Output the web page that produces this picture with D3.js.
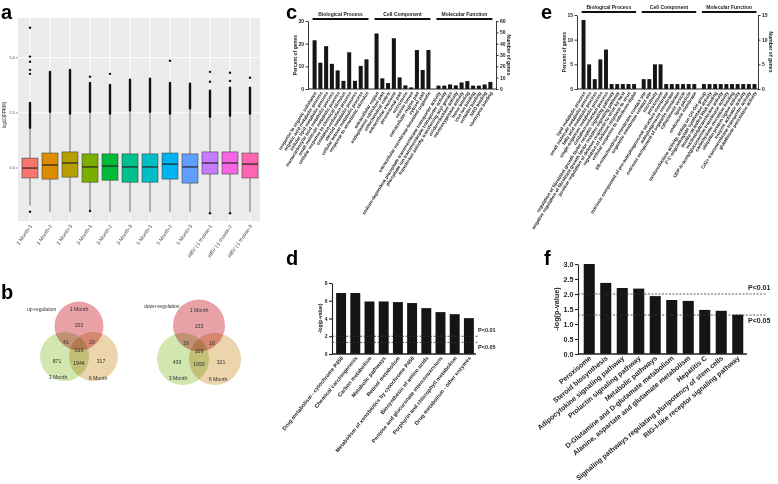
<!DOCTYPE html>
<html>
<head>
<meta charset="utf-8">
<script src="https://cdn.jsdelivr.net/npm/d3@7"></script>
<style>
  body { margin: 0; background: #fff; }
  svg { display: block; font-family: "Liberation Sans", Arial, sans-serif; }
</style>
</head>
<body>
<svg id="fig" width="778" height="484"></svg>
<script>
// ---------- data ----------
const boxSamples = ['1 Month-1', '1 Month-2', '1 Month-3', '3 Month-1', '3 Month-2', '3 Month-3',
  '6 Month-1', '6 Month-2', '6 Month-3', 'HBV (-) mouse-1', 'HBV (-) mouse-2', 'HBV (-) mouse-3'];
const boxColors = ['#F8766D', '#DE8C00', '#B79F00', '#7CAE00', '#00BA38', '#00C08B',
  '#00BFC4', '#00B4F0', '#619CFF', '#C77CFF', '#F564E3', '#FF64B0'];
const boxQ1 = [-0.45, -0.5, -0.41, -0.64, -0.55, -0.64, -0.64, -0.5, -0.68, -0.27, -0.27, -0.45];
const boxMedian = [0, 0.14, 0.23, 0.05, 0.09, 0.05, 0.05, 0.18, 0.05, 0.23, 0.23, 0.18];
const boxQ3 = [0.45, 0.68, 0.73, 0.64, 0.64, 0.64, 0.64, 0.68, 0.64, 0.73, 0.73, 0.68];
const whiskerLow = [-1.7, -2.0, -2.0, -2.0, -2.0, -2.0, -2.0, -2.0, -2.0, -2.0, -2.0, -2.0];
const whiskerHigh = [1.77, 2.5, 2.41, 2.5, 2.41, 2.55, 2.5, 2.41, 2.64, 2.27, 2.32, 2.41];
// top of the dense run of overlapping outlier points
const outlierStackTop = [2.95, 4.36, 4.45, 3.86, 3.77, 4.0, 4.05, 3.86, 3.82, 3.5, 3.64, 3.64];
const outliersHigh = [[6.36, 5.05, 4.82, 4.45, 4.27], [], [], [4.14], [4.27], [], [], [4.86], [], [4.36, 3.91], [4.32, 3.95], [4.09]];
const outliersLow = [[-1.98], [], [], [-1.95], [], [], [], [], [], [-2.05], [-2.05], []];
const aTicks = [0, 2.5, 5.0];

// venn regions: only 1M, only 3M, only 6M, 1M&3M, 1M&6M, 3M&6M, all three
const vennSets = ['1 Month', '3 Month', '6 Month'];
const upCounts = [202, 871, 317, 41, 20, 1944, 213];
const downCounts = [133, 439, 321, 19, 16, 1993, 109];

const goGroups = ['Biological Process', 'Cell Component', 'Molecular Function'];
const cTermsBP = ['response to organic substance', 'organic acid metabolic process', 'cellular lipid metabolic process',
  'monocarboxylic acid metabolic process', 'small molecule metabolic process', 'cellular response to chemical stimulus',
  'oxidation-reduction process', 'steroid metabolic process', 'cellular ketone metabolic process', 'response to xenobiotic stimulus'];
const cTermsCC = ['extracellular region', 'endoplasmic reticulum part', 'mitochondrial matrix', 'extracellular exosome',
  'peroxisomal part', 'microsome', 'vesicle lumen', 'extracellular region part', 'cytosol part', 'extracellular membrane-bounded organelle'];
const cTermsMF = ['sodium-dependent phosphate transmembrane transporter activity', 'phosphate ion transmembrane transporter activity',
  'transferase activity, transferring acyl groups', 'oxidoreductase activity', 'monooxygenase activity', 'heme binding',
  'iron ion binding', 'cofactor binding', 'NAD binding', 'coenzyme binding'];
const cPercentBP = [21.5, 11.6, 18.9, 11.1, 8.2, 3.6, 16.2, 3.6, 10.2, 13.1];
const cPercentCC = [24.5, 4.7, 2.6, 22.4, 5.1, 1.6, 0.7, 17.2, 8.4, 17.2];
const cPercentMF = [1.5, 1.5, 2.0, 1.6, 2.9, 3.5, 1.5, 1.5, 2.0, 3.1];

const eTermsBP = ['lipid metabolic process', 'small molecule metabolic process', 'fatty acid metabolic process',
  'single-organism metabolic process', 'oxidation-reduction process',
  'regulation of fibroblast growth factor receptor signaling pathway',
  'negative regulation of fibroblast growth factor receptor signaling pathway',
  'positive regulation of defense response to virus by host', 'regulation of defense response to virus',
  'cellular response to interferon-alpha'];
const eTermsCC = ['ER-mitochondrion membrane contact site', 'organelle membrane contact site', 'microbody', 'peroxisome',
  'extrinsic component of pre-autophagosomal structure membrane', 'autophagosome membrane',
  'extrinsic component of organelle membrane', 'cytoplasmic vesicle', 'lipid particle', 'endosome membrane'];
const eTermsMF = ['oxidoreductase activity, acting on CH-OH group', "2'-5'-oligoadenylate synthetase activity",
  'double-stranded RNA binding', 'nucleotidyltransferase activity', 'UDP-N-acetylglucosamine transferase activity',
  'carbohydrate derivative binding', 'ubiquitin protein ligase activity', 'enzyme activator activity',
  'Cd2+ transmembrane transporter activity', 'glutathione peroxidase activity'];
const ePercentBP = [14, 5, 2, 6, 8, 1, 1, 1, 1, 1];
const ePercentCC = [2, 2, 5, 5, 1, 1, 1, 1, 1, 1];
const ePercentMF = [1, 1, 1, 1, 1, 1, 1, 1, 1, 1];

const dPathways = ['Drug metabolism - cytochrome P450', 'Chemical carcinogenesis', 'Carbon metabolism',
  'Metabolic pathways', 'Retinol metabolism', 'Metabolism of xenobiotics by cytochrome P450',
  'Biosynthesis of amino acids', 'Pentose and glucuronate interconversions',
  'Porphyrin and chlorophyll metabolism', 'Drug metabolism - other enzymes'];
const dLogP = [6.87, 6.87, 5.92, 5.92, 5.85, 5.74, 5.17, 4.72, 4.49, 4.04];

const fPathways = ['Peroxisome', 'Steroid biosynthesis', 'Adipocytokine signaling pathway',
  'Prolactin signaling pathway', 'Metabolic pathways', 'D-Glutamine and D-glutamate metabolism',
  'Alanine, aspartate and glutamate metabolism', 'Hepatitis C',
  'Signaling pathways regulating pluripotency of stem cells', 'RIG-I-like receptor signaling pathway'];
const fLogP = [3.0, 2.37, 2.2, 2.18, 1.93, 1.8, 1.77, 1.47, 1.44, 1.31];

const pThresholds = [{ label: 'P<0.01', value: 2 }, { label: 'P<0.05', value: 1.3 }];

const svg = d3.select('#fig');

// ---------- a: boxplots ----------
const a = svg.append('g');
const ax = d3.scaleBand().domain(boxSamples).range([20, 260]).paddingInner(0.2).paddingOuter(0.1);
const ay = d3.scaleLinear().domain([-2.4, 6.8]).range([221, 18]);

a.append('rect').attr('x', 18).attr('y', 18).attr('width', 242).attr('height', 203).attr('fill', '#ebebeb');
const minorTicks = aTicks.map(t => t - 1.25).concat([aTicks[aTicks.length - 1] + 1.25]);
a.selectAll('.minor').data(minorTicks).enter().append('line')
  .attr('x1', 18).attr('x2', 260).attr('y1', ay).attr('y2', ay)
  .attr('stroke', '#f7f7f7').attr('stroke-width', 0.5);
a.selectAll('.major').data(aTicks).enter().append('line')
  .attr('x1', 18).attr('x2', 260).attr('y1', ay).attr('y2', ay)
  .attr('stroke', '#fff').attr('stroke-width', 1);
a.selectAll('.vgrid').data(boxSamples).enter().append('line')
  .attr('x1', d => ax(d) + ax.bandwidth() / 2).attr('x2', d => ax(d) + ax.bandwidth() / 2)
  .attr('y1', 18).attr('y2', 221).attr('stroke', '#fff').attr('stroke-width', 1);

a.selectAll('.ytick').data(aTicks).enter().append('text')
  .attr('x', 15).attr('y', ay).attr('dy', '0.35em').attr('text-anchor', 'end')
  .attr('font-size', 4).attr('fill', '#4d4d4d').text(d => d3.format('.1f')(d));
a.selectAll('.ytickmark').data(aTicks).enter().append('line')
  .attr('x1', 16).attr('x2', 18).attr('y1', ay).attr('y2', ay).attr('stroke', '#333').attr('stroke-width', 0.5);
a.append('text').attr('transform', 'translate(6,115) rotate(-90)').attr('text-anchor', 'middle')
  .attr('font-size', 4.5).attr('fill', '#222').text('log10(FPKM)');

boxSamples.forEach((s, i) => {
  const cx = ax(s) + ax.bandwidth() / 2;
  const w = ax.bandwidth();
  const g = a.append('g');
  g.append('line').attr('x1', cx).attr('x2', cx).attr('y1', ay(whiskerLow[i])).attr('y2', ay(whiskerHigh[i]))
    .attr('stroke', '#666').attr('stroke-width', 1);
  g.append('rect').attr('x', cx - 1.2).attr('width', 2.4)
    .attr('y', ay(outlierStackTop[i]) - 1.2).attr('height', ay(whiskerHigh[i]) - ay(outlierStackTop[i]) + 1.2)
    .attr('rx', 1.2).attr('fill', '#111');
  g.selectAll('.o').data(outliersHigh[i].concat(outliersLow[i])).enter().append('circle')
    .attr('cx', cx).attr('cy', ay).attr('r', 1.2).attr('fill', '#111');
  g.append('rect').attr('x', cx - w / 2).attr('width', w)
    .attr('y', ay(boxQ3[i])).attr('height', ay(boxQ1[i]) - ay(boxQ3[i]))
    .attr('fill', boxColors[i]).attr('stroke', '#444').attr('stroke-width', 0.6);
  g.append('line').attr('x1', cx - w / 2).attr('x2', cx + w / 2)
    .attr('y1', ay(boxMedian[i])).attr('y2', ay(boxMedian[i])).attr('stroke', '#222').attr('stroke-width', 1.2);
  a.append('text').attr('transform', `translate(${cx + 1},225) rotate(-55)`)
    .attr('text-anchor', 'end').attr('dy', '0.35em').attr('font-size', 5.2).attr('fill', '#444').text(s);
});

// ---------- b: venn diagrams ----------
const regionOffsets = [[0, -17], [-22, 19], [22, 19], [-13, 0], [13, 0], [0, 21], [0, 8]];
function venn(cx, cy, r, d, title, titleX, titleY, counts) {
  const g = svg.append('g');
  const centers = [[cx, cy - d * 1.1], [cx - d, cy + d], [cx + d, cy + d]];
  const fills = ['#e8a2a6', '#d2e6b0', '#ecd5ad'];
  g.selectAll('circle').data(centers).enter().append('circle')
    .attr('cx', c => c[0]).attr('cy', c => c[1]).attr('r', r)
    .attr('fill', (c, i) => fills[i]).style('mix-blend-mode', 'multiply');
  g.append('text').attr('x', titleX).attr('y', titleY).attr('font-size', 5).attr('fill', '#333').text(title);
  const setPos = [[0, -33], [-21, 35], [19, 36]];
  vennSets.forEach((s, i) => g.append('text').attr('x', cx + setPos[i][0]).attr('y', cy + setPos[i][1])
    .attr('text-anchor', 'middle').attr('dy', '0.35em').attr('font-size', 5.2).attr('fill', '#333').text(s));
  counts.forEach((c, i) => g.append('text').attr('x', cx + regionOffsets[i][0]).attr('y', cy + regionOffsets[i][1])
    .attr('text-anchor', 'middle').attr('dy', '0.35em').attr('font-size', 5.2).attr('fill', '#333').text(c));
}
venn(79, 342, 24.5, 14.5, 'up-regulation', 27, 311, upCounts);
venn(199, 343, 26, 16, 'down-regulation', 144, 308, downCounts);

// ---------- c / e: GO bar charts ----------
function goPanel(cfg) {
  const g = svg.append('g');
  const groups = [cfg.bp, cfg.cc, cfg.mf];
  const vals = groups.flatMap(gr => gr.values);
  const terms = groups.flatMap(gr => gr.terms);
  const grpIdx = groups.flatMap((gr, gi) => gr.values.map(() => gi));
  const x = d3.scaleBand().domain(d3.range(vals.length)).range([cfg.x0, cfg.x1 - 2 * cfg.gap])
    .paddingInner(0.3).paddingOuter(0.1);
  const bx = i => x(i) + grpIdx[i] * cfg.gap;
  const y = d3.scaleLinear().domain([0, cfg.max]).range([cfg.y0, cfg.yTop]);
  const yR = d3.scaleLinear().domain([0, cfg.maxR]).range([cfg.y0, cfg.yTop]);

  g.selectAll('.bar').data(vals).enter().append('rect')
    .attr('x', (d, i) => bx(i)).attr('width', x.bandwidth())
    .attr('y', d => y(d)).attr('height', d => cfg.y0 - y(d)).attr('fill', '#151515');

  const left = g.append('g').attr('transform', `translate(${cfg.axisL},0)`)
    .call(d3.axisLeft(y).tickValues(cfg.ticks).tickSize(2.5).tickSizeOuter(0).tickPadding(1.5));
  const right = g.append('g').attr('transform', `translate(${cfg.axisR},0)`)
    .call(d3.axisRight(yR).tickValues(cfg.ticksR).tickSize(2.5).tickSizeOuter(0).tickPadding(1.5));
  [left, right].forEach(s => {
    s.selectAll('path, line').attr('stroke', '#222').attr('stroke-width', 0.9);
    s.selectAll('text').attr('font-size', 5).attr('font-weight', 'bold').attr('fill', '#222').attr('font-family', null);
  });
  g.append('line').attr('x1', cfg.axisL).attr('x2', cfg.axisR).attr('y1', cfg.y0).attr('y2', cfg.y0)
    .attr('stroke', '#222').attr('stroke-width', 1);

  goGroups.forEach((name, gi) => {
    const idx = d3.range(vals.length).filter(i => grpIdx[i] === gi);
    const xa = bx(idx[0]), xb = bx(idx[idx.length - 1]) + x.bandwidth();
    g.append('line').attr('x1', xa).attr('x2', xb).attr('y1', cfg.bracketY).attr('y2', cfg.bracketY)
      .attr('stroke', '#111').attr('stroke-width', 1.8);
    g.append('text').attr('x', (xa + xb) / 2).attr('y', cfg.bracketY - 3.5).attr('text-anchor', 'middle')
      .attr('font-size', 5).attr('font-weight', 'bold').attr('fill', '#222').text(name);
  });

  g.selectAll('.lab').data(terms).enter().append('text')
    .attr('transform', (d, i) => `translate(${bx(i) + x.bandwidth() / 2 + 1},${cfg.y0 + 3}) rotate(-58)`)
    .attr('text-anchor', 'end').attr('dy', '0.35em').attr('font-size', 4.6).attr('font-weight', 'bold')
    .attr('fill', '#222').text(d => d);

  const mid = (cfg.y0 + cfg.yTop) / 2;
  g.append('text').attr('transform', `translate(${cfg.axisL - 11},${mid}) rotate(-90)`).attr('text-anchor', 'middle')
    .attr('font-size', 5).attr('font-weight', 'bold').attr('fill', '#222').text('Percent of genes');
  g.append('text').attr('transform', `translate(${cfg.axisR + 11},${mid}) rotate(90)`).attr('text-anchor', 'middle')
    .attr('font-size', 5).attr('font-weight', 'bold').attr('fill', '#222').text('Number of genes');
}

goPanel({
  bp: { terms: cTermsBP, values: cPercentBP }, cc: { terms: cTermsCC, values: cPercentCC },
  mf: { terms: cTermsMF, values: cPercentMF },
  x0: 312, x1: 493, gap: 4.3, y0: 89, yTop: 21, max: 30, maxR: 60,
  ticks: [0, 10, 20, 30], ticksR: [0, 10, 20, 30, 40, 50, 60], axisL: 308, axisR: 496, bracketY: 19
});
goPanel({
  bp: { terms: eTermsBP, values: ePercentBP }, cc: { terms: eTermsCC, values: ePercentCC },
  mf: { terms: eTermsMF, values: ePercentMF },
  x0: 581, x1: 757, gap: 4, y0: 89, yTop: 15, max: 15, maxR: 15,
  ticks: [0, 5, 10, 15], ticksR: [0, 5, 10, 15], axisL: 577, axisR: 758, bracketY: 12
});

// ---------- d / f: KEGG enrichment ----------
function pathwayPanel(cfg) {
  const g = svg.append('g');
  const x = d3.scaleBand().domain(cfg.names).range([cfg.x0, cfg.x1]).paddingInner(cfg.pad).paddingOuter(cfg.pad / 2);
  const y = d3.scaleLinear().domain([0, cfg.max]).range([cfg.y0, cfg.yTop]);

  g.selectAll('.bar').data(cfg.values).enter().append('rect')
    .attr('x', (d, i) => x(cfg.names[i])).attr('width', x.bandwidth())
    .attr('y', d => y(d)).attr('height', d => cfg.y0 - y(d)).attr('fill', '#151515');

  const left = g.append('g').attr('transform', `translate(${cfg.axisL},0)`)
    .call(d3.axisLeft(y).tickValues(cfg.ticks).tickFormat(d3.format(cfg.fmt)).tickSize(3).tickSizeOuter(0).tickPadding(1.5));
  left.selectAll('path, line').attr('stroke', '#222').attr('stroke-width', 1.1);
  left.selectAll('text').attr('font-size', cfg.tickFont).attr('font-weight', 'bold').attr('fill', '#222').attr('font-family', null);
  g.append('line').attr('x1', cfg.axisL).attr('x2', cfg.axisEnd).attr('y1', cfg.y0).attr('y2', cfg.y0)
    .attr('stroke', '#222').attr('stroke-width', 1.6);

  pThresholds.forEach((p, i) => {
    g.append('line').attr('x1', cfg.axisL).attr('x2', cfg.dashEnd).attr('y1', y(p.value)).attr('y2', y(p.value))
      .attr('stroke', '#333').attr('stroke-width', 0.8).attr('stroke-dasharray', '2,1.5');
    g.append('text').attr('x', cfg.pX).attr('y', cfg.pY[i]).attr('dy', '0.35em')
      .attr('font-size', cfg.pFont).attr('font-weight', 'bold').attr('fill', '#222').text(p.label);
  });

  g.selectAll('.lab').data(cfg.names).enter().append('text')
    .attr('transform', d => `translate(${x(d) + x.bandwidth() / 2 + 1},${cfg.y0 + 3}) rotate(${cfg.angle})`)
    .attr('text-anchor', 'end').attr('dy', '0.35em').attr('font-size', cfg.labFont).attr('font-weight', 'bold')
    .attr('fill', '#222').text(d => d);

  g.append('text').attr('transform', `translate(${cfg.titleX},${(cfg.y0 + cfg.yTop) / 2}) rotate(-90)`)
    .attr('text-anchor', 'middle').attr('font-size', cfg.tickFont).attr('font-weight', 'bold')
    .attr('fill', '#222').text('-log(p-value)');
}

pathwayPanel({
  names: dPathways, values: dLogP, x0: 334, x1: 476, pad: 0.3, y0: 354, yTop: 283, max: 8,
  ticks: [0, 2, 4, 6, 8], fmt: 'd', axisL: 332, axisEnd: 476, dashEnd: 479,
  pX: 478, pY: [330, 347], pFont: 5.5, angle: -51, labFont: 5.4, tickFont: 5, titleX: 322
});
pathwayPanel({
  names: fPathways, values: fLogP, x0: 581, x1: 746, pad: 0.33, y0: 354, yTop: 264, max: 3,
  ticks: [0, 0.5, 1, 1.5, 2, 2.5, 3], fmt: '.1f', axisL: 578, axisEnd: 747, dashEnd: 767,
  pX: 748, pY: [288, 321], pFont: 7, angle: -40, labFont: 7, tickFont: 7.2, titleX: 559
});

// ---------- panel letters ----------
const letters = [['a', 1, 18.5], ['b', 1, 299], ['c', 286, 18.5], ['d', 286, 265], ['e', 541, 18.5], ['f', 544, 265]];
svg.selectAll('.letter').data(letters).enter().append('text')
  .attr('x', d => d[1]).attr('y', d => d[2]).attr('font-size', 20).attr('font-weight', 'bold').attr('fill', '#000')
  .text(d => d[0]);
</script>
</body>
</html>
